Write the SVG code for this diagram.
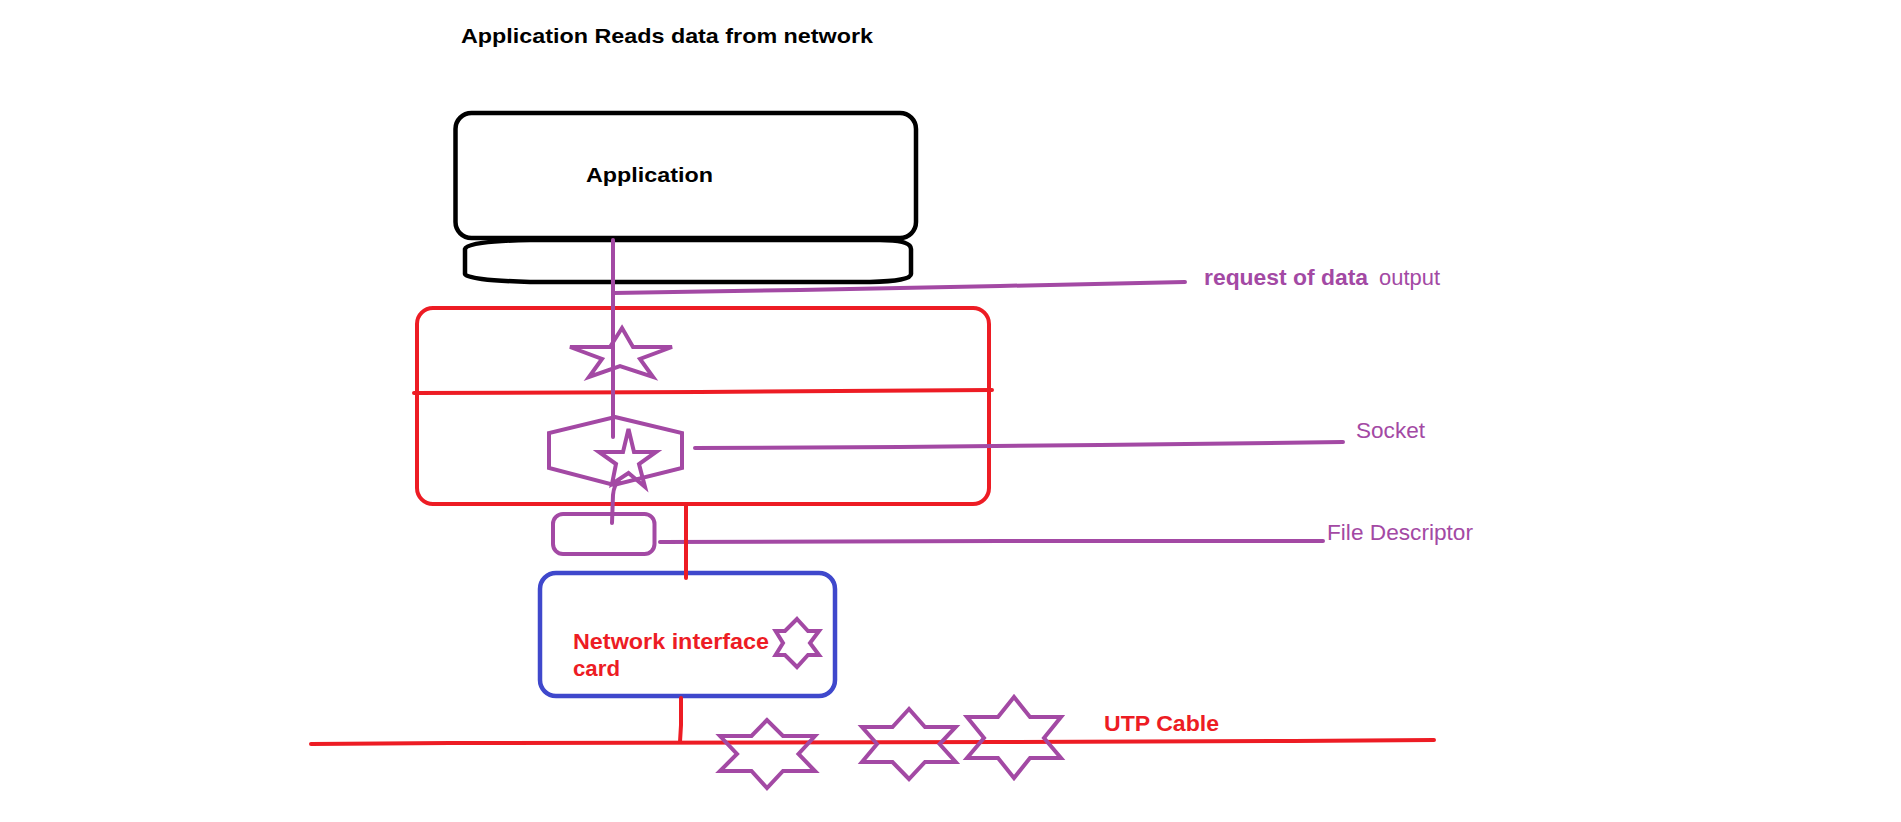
<svg xmlns="http://www.w3.org/2000/svg" width="1901" height="822" viewBox="0 0 1901 822">
<style>
text{font-family:"Liberation Sans",Arial,sans-serif}
.b{font-weight:bold}
.p{fill:none;stroke:#a349a4;stroke-width:4;stroke-linejoin:miter;stroke-linecap:round}
.r{fill:none;stroke:#ed1c24;stroke-width:4;stroke-linecap:round}
.k{fill:none;stroke:#000;stroke-width:4.5}
.bl{fill:none;stroke:#3f48cc;stroke-width:4.5}
.tp{fill:#a349a4;font-size:22px}
.tr{fill:#ed1c24;font-size:22px;font-weight:bold}
</style>
<rect width="1901" height="822" fill="#fff"/>
<text id="title" class="b" x="461" y="43" font-size="21" fill="#000" textLength="412" lengthAdjust="spacingAndGlyphs">Application Reads data from network</text>
<g id="application">
<rect class="k" x="455.5" y="113" width="460.5" height="125" rx="16"/>
<text class="b" x="586" y="182" font-size="21" fill="#000" textLength="127" lengthAdjust="spacingAndGlyphs">Application</text>
</g>
<g id="app-base">
<path class="k" d="M465,249 Q467,241 530,240 L880,240 Q911,240 911,249 L911,274 Q911,281 870,282 L530,282 Q466,280 465,274 Z"/>
</g>
<g id="kernel">
<rect class="r" x="417" y="308" width="572" height="196" rx="16"/>
<polyline class="r" points="414,393 700,392 992,390"/>
</g>
<g id="packet-star">
<polygon class="p" points="622,328 633,347 672,347 640,359 653,377 620,366 589,377 602,359 570,347 610,347"/>
</g>
<g id="socket">
<polygon class="p" points="615,417 682,433 682,468 614,485 549,468 549,433"/>
<polygon class="p" points="628.5,429 634,452 656,452 639,464 645,487 628.5,473 612,484 616,464 599,452 623,452"/>
</g>
<g id="file-descriptor">
<rect class="p" x="553" y="514" width="101.5" height="40" rx="10"/>
</g>
<g id="nic">
<rect class="bl" x="540" y="573" width="295" height="123" rx="16"/>
<text class="tr" x="573" y="649" textLength="196" lengthAdjust="spacingAndGlyphs">Network interface</text>
<text class="tr" x="573" y="676" textLength="47" lengthAdjust="spacingAndGlyphs">card</text>
<polygon class="p" points="797,619 808,631 819,631 810,643 819,655 808,655 797,667 785,655 775.6,655 783,643 775.6,631 785,631"/>
</g>
<g id="utp-cable">
<polyline class="r" points="311,744 450,743 1000,742 1294,741 1434,740"/>
<text class="tr" x="1104" y="731" font-size="23" textLength="115" lengthAdjust="spacingAndGlyphs">UTP Cable</text>
</g>
<g id="cable-stars">
<polygon class="p" points="767,720 751.5,736 720,736 737,754 720,771 751.5,771 767,788 783,771 815,771 798.5,754 815,736 783,736"/>
<polygon class="p" points="909,709 892.5,727 862,727 877,744 862,762 892.5,762 909,779 925,762 955.7,762 939.6,744 955.7,727 925,727"/>
<polygon class="p" points="1014,697 998,717 967,717 984,738 967,758 998,758 1014,778 1030,758 1061,758 1044,738 1061,717 1030,717"/>
</g>
<g id="connectors">
<line class="p" x1="613" y1="240" x2="613" y2="437"/>
<polyline class="p" points="613,293 800,290 1000,286 1185,282"/>
<path class="p" d="M619,482 Q614,484 613,495 L612,523"/>
<polyline class="p" points="695,448 900,447 1100,445 1343,442"/>
<polyline class="p" points="660,542 1000,541 1323,541"/>
<line class="r" x1="686" y1="504" x2="686" y2="578"/>
<polyline class="r" points="681,698 681,725 680,742"/>
</g>
<g id="labels">
<text class="tp b" x="1204" y="285" textLength="164" lengthAdjust="spacingAndGlyphs">request of data</text>
<text class="tp" x="1379" y="285" textLength="61" lengthAdjust="spacingAndGlyphs">output</text>
<text class="tp" x="1356" y="438" textLength="69" lengthAdjust="spacingAndGlyphs">Socket</text>
<text class="tp" x="1327" y="540" textLength="146" lengthAdjust="spacingAndGlyphs">File Descriptor</text>
</g>
</svg>
